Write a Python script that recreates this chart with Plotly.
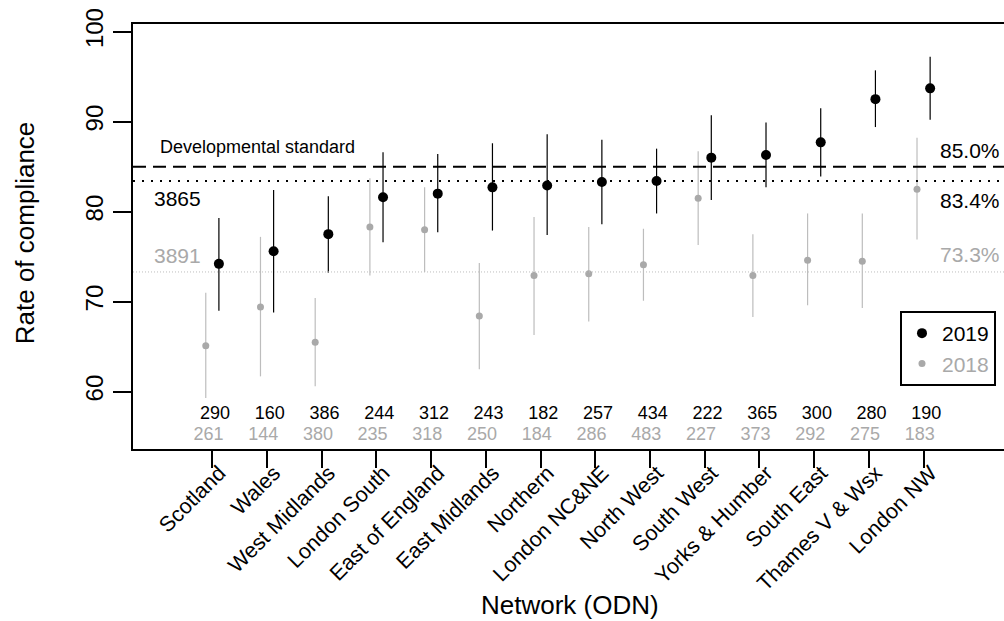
import numpy as np
import plotly.graph_objects as go

networks = ["Scotland", "Wales", "West Midlands", "London South", "East of England",
            "East Midlands", "Northern", "London NC&NE", "North West", "South West",
            "Yorks & Humber", "South East", "Thames V & Wsx", "London NW"]
rate_2019 = [74.2, 75.6, 77.5, 81.6, 82.0, 82.7, 82.9, 83.3, 83.4, 86.0, 86.3, 87.7, 92.5, 93.7]
lo_2019 = [69.0, 68.8, 73.2, 76.6, 77.7, 77.9, 77.4, 78.6, 79.8, 81.3, 82.7, 83.9, 89.4, 90.2]
hi_2019 = [79.3, 82.4, 81.7, 86.6, 86.4, 87.6, 88.6, 88.0, 87.0, 90.7, 89.9, 91.5, 95.7, 97.2]
rate_2018 = [65.1, 69.4, 65.5, 78.3, 78.0, 68.4, 72.9, 73.1, 74.1, 81.5, 72.9, 74.6, 74.5, 82.5]
lo_2018 = [59.3, 61.7, 60.6, 72.9, 73.3, 62.5, 66.3, 67.8, 70.1, 76.3, 68.3, 69.6, 69.3, 76.9]
hi_2018 = [71.0, 77.2, 70.4, 83.7, 82.7, 74.3, 79.4, 78.3, 78.1, 86.7, 77.5, 79.8, 79.8, 88.2]
n_2019 = [290, 160, 386, 244, 312, 243, 182, 257, 434, 222, 365, 300, 280, 190]
n_2018 = [261, 144, 380, 235, 318, 250, 184, 286, 483, 227, 373, 292, 275, 183]
standard = 85.0
overall_2019 = 83.4
overall_2018 = 73.3
total_2019 = 3865
total_2018 = 3891
y_ticks = [60, 70, 80, 90, 100]

FONT = "Liberation Sans, Arial, Helvetica, sans-serif"
GREY = "#a9a9a9"
GREY_LINE = "#bdbdbd"

idx = np.arange(len(networks))
r19, r18 = np.array(rate_2019), np.array(rate_2018)

fig = go.Figure()
fig.add_trace(go.Scatter(
    x=idx + 0.12, y=r19, mode="markers", name="2019",
    marker=dict(color="black", size=10),
    error_y=dict(type="data", symmetric=False, array=np.array(hi_2019) - r19,
                 arrayminus=r19 - np.array(lo_2019), width=0, thickness=1.2, color="black"),
    cliponaxis=False))
fig.add_trace(go.Scatter(
    x=idx - 0.12, y=r18, mode="markers", name='<span style="color:%s">2018</span>' % GREY,
    marker=dict(color=GREY, size=7),
    error_y=dict(type="data", symmetric=False, array=np.array(hi_2018) - r18,
                 arrayminus=r18 - np.array(lo_2018), width=0, thickness=1.2, color=GREY_LINE),
    cliponaxis=False))
fig.add_trace(go.Scatter(
    x=idx + 0.05, y=[57.44] * len(idx), mode="text", text=[str(v) for v in n_2019],
    textfont=dict(size=18, color="black", family=FONT), showlegend=False, hoverinfo="skip"))
fig.add_trace(go.Scatter(
    x=idx - 0.07, y=[55.08] * len(idx), mode="text", text=[str(v) for v in n_2018],
    textfont=dict(size=18, color=GREY, family=FONT), showlegend=False, hoverinfo="skip"))

shapes = [
    dict(type="line", xref="paper", x0=0, x1=1, yref="y", y0=standard, y1=standard,
         line=dict(color="black", width=2, dash="13px,7px")),
    dict(type="line", xref="paper", x0=0, x1=1, yref="y", y0=overall_2019, y1=overall_2019,
         line=dict(color="black", width=2, dash="2px,7px")),
    dict(type="line", xref="paper", x0=0, x1=1, yref="y", y0=overall_2018, y1=overall_2018,
         line=dict(color=GREY_LINE, width=1, dash="1px,2px")),
]

annotations = [
    dict(text="Developmental standard", xref="paper", x=0.0287, xanchor="left", yref="y", y=87.15,
         yanchor="middle", showarrow=False, font=dict(size=18, color="black", family=FONT)),
    dict(text=str(total_2019), xref="paper", x=0.0215, xanchor="left", yref="y", y=81.45,
         yanchor="middle", showarrow=False, font=dict(size=21, color="black", family=FONT)),
    dict(text=str(total_2018), xref="paper", x=0.0215, xanchor="left", yref="y", y=75.1,
         yanchor="middle", showarrow=False, font=dict(size=21, color=GREY, family=FONT)),
    dict(text="%.1f%%" % standard, xref="paper", x=0.9973, xanchor="right", yref="y", y=86.8,
         yanchor="middle", showarrow=False, font=dict(size=21, color="black", family=FONT)),
    dict(text="%.1f%%" % overall_2019, xref="paper", x=0.9973, xanchor="right", yref="y", y=81.2,
         yanchor="middle", showarrow=False, font=dict(size=21, color="black", family=FONT)),
    dict(text="%.1f%%" % overall_2018, xref="paper", x=0.9973, xanchor="right", yref="y", y=75.2,
         yanchor="middle", showarrow=False, font=dict(size=21, color=GREY, family=FONT)),
    dict(text="Rate of compliance", xref="paper", x=-0.1245, xanchor="center", yref="paper", y=0.509,
         yanchor="middle", textangle=-90, showarrow=False, font=dict(size=26, color="black", family=FONT)),
    dict(text="Network (ODN)", xref="paper", x=0.5017, xanchor="center", yref="paper", y=-0.367,
         yanchor="middle", showarrow=False, font=dict(size=26, color="black", family=FONT)),
]

fig.update_layout(
    width=1004, height=621,
    margin=dict(l=133, r=0, t=24, b=172, autoexpand=False),
    paper_bgcolor="white", plot_bgcolor="white",
    font=dict(family=FONT, color="black"),
    shapes=shapes, annotations=annotations,
    legend=dict(x=0.9908, xanchor="right", y=0.3247, yanchor="top",
                bordercolor="black", borderwidth=2, bgcolor="white",
                font=dict(size=21, family=FONT, color="black")),
    xaxis=dict(range=[-1.45, 14.47], tickvals=idx, ticktext=networks, tickangle=-45,
               tickfont=dict(size=21.5, family=FONT), ticks="outside", ticklen=17, tickwidth=2,
               ticklabelshift=7, ticklabelstandoff=-16,
               tickcolor="black", showline=True, linecolor="black", linewidth=2, mirror=True,
               showgrid=False, zeroline=False),
    yaxis=dict(range=[53.63, 100.85], tickvals=y_ticks, tickangle=-90,
               tickfont=dict(size=24, family=FONT), ticks="outside", ticklen=18, tickwidth=2,
               tickcolor="black", showline=True, linecolor="black", linewidth=2,
               showgrid=False, zeroline=False),
)

fig.write_html("out.html")
